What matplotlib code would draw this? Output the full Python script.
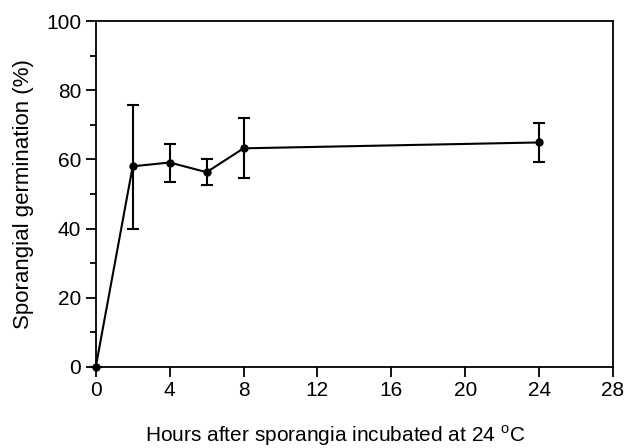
import matplotlib
matplotlib.use("Agg")
import matplotlib.pyplot as plt
from matplotlib.ticker import MultipleLocator

plt.rcParams['font.family'] = ['Liberation Sans', 'DejaVu Sans']
plt.rcParams['mathtext.fontset'] = 'custom'
plt.rcParams['mathtext.rm'] = 'Liberation Sans'

hours = [0, 2, 4, 6, 8, 24]
germination = [0, 58.0, 59.1, 56.3, 63.2, 64.9]
err_upper = [0, 17.8, 5.3, 3.7, 8.7, 5.7]
err_lower = [0, 18.1, 5.5, 3.7, 8.6, 5.6]
xticks = [0, 4, 8, 12, 16, 20, 24, 28]
yticks = [0, 20, 40, 60, 80, 100]

fig = plt.figure(figsize=(6.3, 4.48), dpi=100)
ax = fig.add_axes([0.152, 0.181, 0.821, 0.772])

ax.errorbar(hours, germination, yerr=[err_lower, err_upper], color='black',
            lw=1.5, marker='o', ms=5, capsize=4, capthick=1.5, elinewidth=1.5)

ax.set_xlim(0, 28)
ax.set_ylim(0, 100)
ax.set_xticks(xticks)
ax.set_yticks(yticks)
ax.yaxis.set_minor_locator(MultipleLocator(10))
ax.tick_params(axis='both', which='major', direction='out', length=7.5, width=1.3, labelsize=15, pad=3)
ax.tick_params(axis='y', which='minor', direction='out', length=4, width=1.3)
for s in ax.spines.values():
    s.set_linewidth(1.3)

ax.set_xlabel(r'Hours after sporangia incubated at 24 $^{\rm o}$C', fontsize=15)
ax.xaxis.set_label_coords(0.462, -0.162)
ax.set_ylabel('Sporangial germination (%)', fontsize=16, labelpad=9)
for artist in ax.get_children():
    try:
        artist.set_clip_on(False)
    except Exception:
        pass

fig.savefig('out.png', dpi=100)
